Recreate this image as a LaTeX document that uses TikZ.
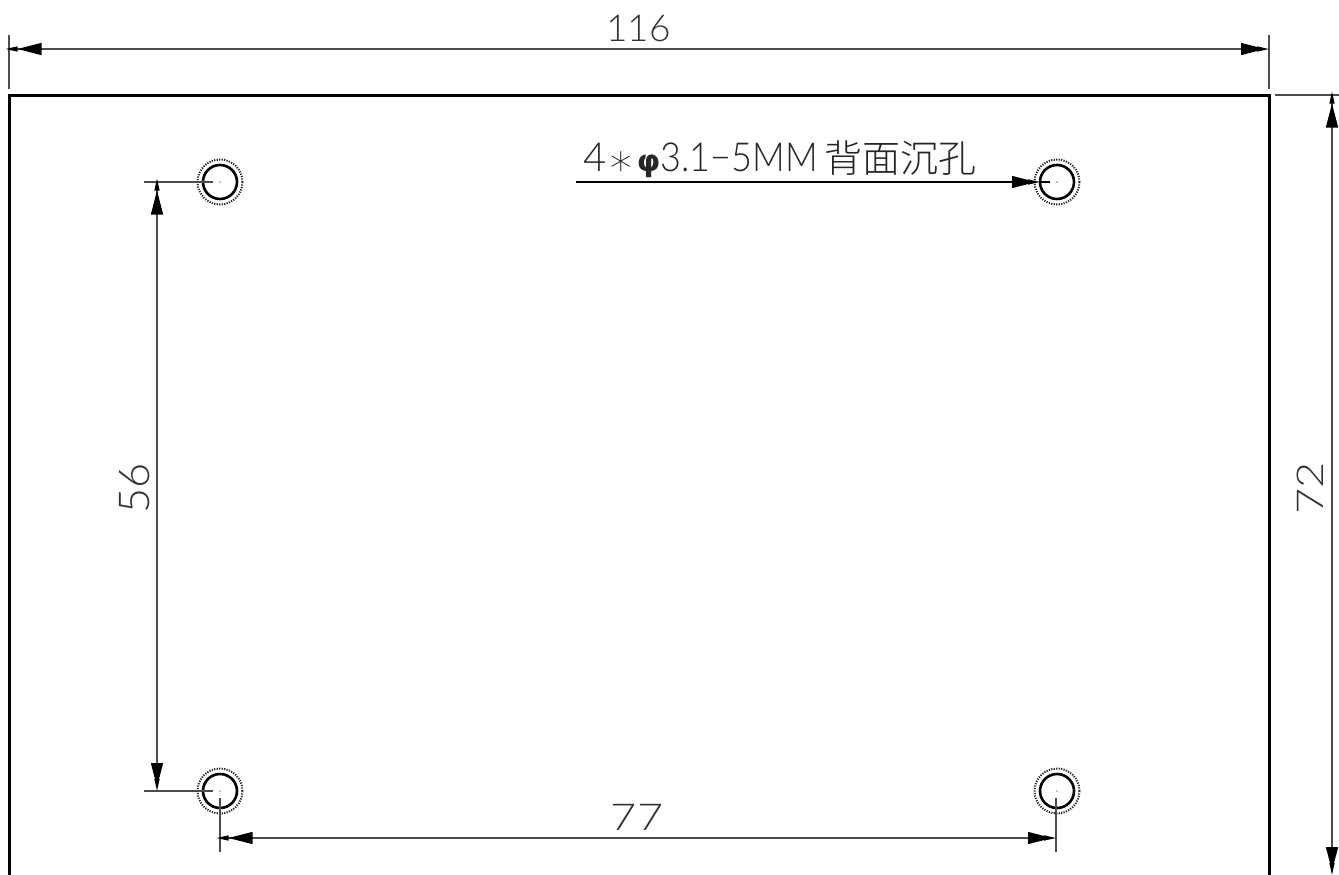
\documentclass[tikz,border=0pt]{standalone}
\usepackage{fontspec}
\usepackage{graphicx}
\usetikzlibrary{arrows.meta}
\newfontfamily\thinfont{Lato Light}
\newfontfamily\cjkfont{Noto Sans CJK SC Light}
\newfontfamily\phifont{DejaVu Sans Bold}
\newfontfamily\starfont{DejaVu Sans ExtraLight}
\tikzset{
  dimline/.style={line width=1.2pt,draw=black!70},
  extline/.style={line width=1.2pt,draw=black!70},
  leaderline/.style={line width=1.2pt,draw=black},
  tipboth/.style={shorten <=4.5pt,{Triangle[length=12pt,width=5pt,sep=-8pt,color=black,fill=black]Triangle[length=24pt,width=12pt,color=black,fill=black]}-{Triangle[length=24pt,width=12pt,sep=-8pt,color=black,fill=black]Triangle[length=12pt,width=5pt,color=black,fill=black]}},
  tipend/.style={-{Triangle[length=24pt,width=12pt,sep=-8pt,color=black,fill=black]Triangle[length=12pt,width=5pt,color=black,fill=black]}},
  halo/.style={circle,draw=black!85,line width=2pt,dash pattern=on 1.2pt off 1.3pt,minimum size=45pt,inner sep=0pt},
  holecircle/.style={circle,draw=black,line width=2.6pt,minimum size=34pt,inner sep=0pt},
  dimtext/.style={font=\thinfont\fontsize{37}{37}\selectfont,inner sep=0pt,text=black!80},
}
\begin{document}
\begin{tikzpicture}[x=1pt,y=-1pt]
\useasboundingbox (0,0) rectangle (1339,875);
% plate outline, open at the bottom
\draw[line width=3pt,line join=miter] (9,875) -- (9,95) -- (1269,95) -- (1269,875);
% holes
\foreach \n/\px/\py in {a/220/182,b/1057/182,c/220/791,d/1057/791}{
  \node[halo] (halo\n) at (\px,\py) {};
  \node[holecircle] (\n) at (\px,\py) {};
  \fill (\px,\py) circle (0.6pt);
}
% top dimension
\coordinate (t1a) at (9,35); \coordinate (t1b) at (9,89);
\coordinate (t2a) at (1269,35); \coordinate (t2b) at (1269,89);
\coordinate (tl) at (9,49); \coordinate (tr) at (1269,49);
\draw[extline] (t1a) -- (t1b);
\draw[extline] (t2a) -- (t2b);
\draw[dimline,tipboth] (tl) -- (tr);
\node[dimtext] (t116) at (638.5,29) {116};
% right dimension
\coordinate (r1) at (1275,95); \coordinate (r2) at (1339,95);
\coordinate (rt) at (1332,95); \coordinate (rb) at (1332,875);
\draw[extline] (r1) -- (r2);
\draw[dimline,tipboth] (rt) -- (rb);
\node[dimtext,rotate=90] (t72) at (1310,488) {\scalebox{1.22}[1]{72}};
% left dimension
\coordinate (l1) at (144,182); \coordinate (l1e) at (213,182);
\coordinate (l2) at (144,791); \coordinate (l2e) at (213,791);
\coordinate (lt) at (157,182); \coordinate (lb) at (157,791);
\draw[extline] (l1) -- (l1e);
\draw[extline] (l2) -- (l2e);
\draw[dimline,tipboth] (lt) -- (lb);
\node[dimtext,rotate=90] (t56) at (135,488) {\scalebox{1.17}[1.15]{56}};
% bottom dimension
\coordinate (b1) at (220,798); \coordinate (b1e) at (220,852);
\coordinate (b2) at (1056,798); \coordinate (b2e) at (1056,852);
\coordinate (bl) at (220,838); \coordinate (br) at (1056,838);
\draw[extline] (b1) -- (b1e);
\draw[extline] (b2) -- (b2e);
\draw[dimline,tipboth] (bl) -- (br);
\node[dimtext] (t77) at (637,817) {\scalebox{1.22}[1]{77}};
% leader
\coordinate (ls) at (576,182); \coordinate (lm) at (1040,182); \coordinate (le) at (1050,182);
\draw[leaderline] (lm) -- (le);
\draw[leaderline,tipend] (ls) -- (lm);
\node[inner sep=0pt,anchor=base west,text=black!85,font=\thinfont\fontsize{40}{40}\selectfont] (note) at (583,171)
  {4\hspace{1pt}\raisebox{-4pt}{\starfont\fontsize{44}{44}\selectfont ∗}\hspace{2pt}{\phifont\fontsize{30}{30}\selectfont φ}\scalebox{0.9}[1]{3.1−5MM}\hspace{7pt}\raisebox{-1pt}{\cjkfont\fontsize{38}{38}\selectfont 背面沉孔}};
\end{tikzpicture}
\end{document}
